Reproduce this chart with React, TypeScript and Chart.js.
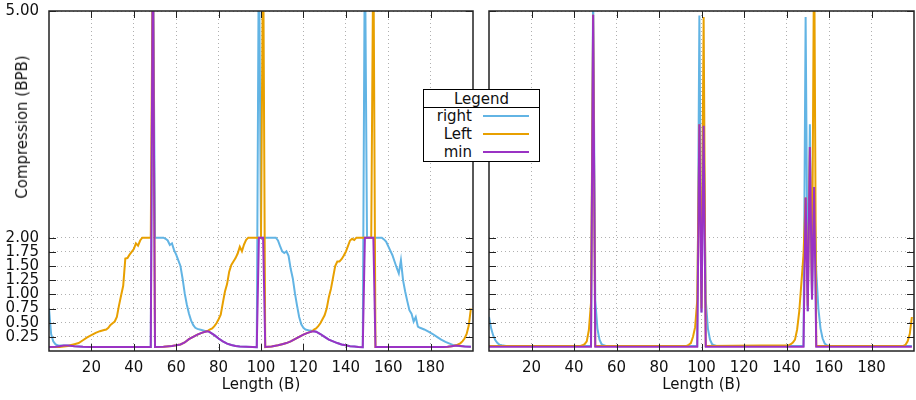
import React, { useEffect, useRef } from 'react';
import { Chart, registerables, LinearScale } from 'chart.js';

// ---------------- data ----------------
const X_TICKS = [20, 40, 60, 80, 100, 120, 140, 160, 180];
const Y_TICKS = [0.25, 0.5, 0.75, 1.0, 1.25, 1.5, 1.75, 2.0, 5.0];
const X_MIN = 0;
const X_MAX = 200;
const Y_MIN = 0;
const Y_MAX = 5;
const SERIES_NAMES = ['right', 'Left', 'min'];

// left panel
const L_RIGHT: [number, number][] = [[0,0.75],[1,0.3],[2,0.17],[3,0.12],[4,0.1],[5,0.095],[9,0.095],[12,0.085],[16,0.075],[20,0.07],[48,0.07],[49,6],[50,2],[54,2],[55,1.98],[56,1.95],[57,1.87],[58,1.9],[59,1.78],[60,1.7],[61,1.6],[62,1.5],[63,1.28],[64,1.02],[65,0.82],[66,0.66],[67,0.54],[68,0.46],[69,0.41],[70,0.39],[72,0.37],[74,0.35],[75,0.35],[76,0.33],[78,0.28],[80,0.22],[82,0.17],[84,0.13],[86,0.105],[88,0.09],[90,0.08],[93,0.075],[96,0.07],[98,0.068],[99,6],[100,2],[107,2],[108,1.95],[109,1.85],[110,1.76],[111,1.73],[112,1.76],[113,1.68],[114,1.45],[115,1.28],[116,1.02],[117,0.8],[118,0.6],[119,0.47],[120,0.41],[121,0.38],[123,0.36],[125,0.35],[126,0.34],[128,0.3],[130,0.25],[132,0.2],[134,0.17],[136,0.14],[138,0.115],[140,0.1],[142,0.085],[144,0.078],[146,0.07],[148,0.068],[149,6],[150,2],[157,2],[158,1.97],[159,1.93],[160,1.85],[161,1.77],[162,1.69],[163,1.58],[164,1.47],[165,1.37],[166,1.6],[167,1.25],[168,1.05],[169,0.88],[170,0.72],[171,0.66],[172,0.52],[173,0.6],[174,0.43],[175,0.41],[177,0.38],[179,0.34],[181,0.3],[183,0.25],[185,0.2],[187,0.16],[189,0.13],[191,0.1],[193,0.09],[195,0.085],[199,0.075]];
const L_LEFT: [number, number][] = [[0,0.07],[5,0.07],[7,0.08],[8,0.085],[9,0.09],[10,0.1],[12,0.12],[14,0.14],[16,0.19],[18,0.24],[20,0.28],[22,0.32],[24,0.35],[26,0.37],[27,0.38],[28,0.41],[29,0.46],[30,0.49],[31,0.52],[32,0.6],[33,0.8],[34,0.98],[35,1.15],[36,1.63],[37,1.64],[38,1.7],[39,1.75],[40,1.8],[41,1.9],[42,1.86],[43,1.95],[44,2],[48,2],[49,6],[50,0.07],[54,0.075],[58,0.09],[60,0.1],[62,0.115],[64,0.15],[66,0.21],[68,0.25],[70,0.29],[72,0.32],[74,0.345],[75,0.36],[76,0.38],[77,0.4],[78,0.44],[79,0.49],[80,0.56],[81,0.64],[82,0.85],[83,1.05],[84,1.18],[85,1.4],[86,1.52],[87,1.58],[88,1.64],[89,1.72],[90,1.84],[91,1.76],[92,1.88],[93,1.96],[94,2],[100,2],[101,6],[102,0.07],[105,0.08],[108,0.1],[110,0.12],[112,0.14],[114,0.17],[116,0.21],[118,0.25],[120,0.29],[122,0.32],[124,0.345],[125,0.38],[126,0.4],[127,0.44],[128,0.49],[129,0.56],[130,0.63],[131,0.75],[132,0.95],[133,1.1],[134,1.3],[135,1.5],[136,1.58],[137,1.58],[138,1.62],[139,1.68],[140,1.75],[141,1.85],[142,1.95],[143,1.98],[144,1.96],[145,2],[152,2],[153,6],[154,0.07],[188,0.075],[190,0.085],[192,0.1],[194,0.135],[195,0.17],[196,0.22],[197,0.3],[198,0.45],[199,0.75]];
const L_MIN: [number, number][] = [[0,0.07],[3,0.075],[5,0.085],[7,0.095],[9,0.095],[12,0.085],[16,0.075],[20,0.07],[48,0.07],[49,6],[50,0.07],[54,0.075],[58,0.09],[60,0.1],[62,0.115],[64,0.15],[66,0.21],[68,0.25],[70,0.29],[72,0.32],[74,0.345],[75,0.35],[76,0.33],[78,0.28],[80,0.22],[82,0.17],[84,0.13],[86,0.105],[88,0.09],[90,0.08],[93,0.075],[96,0.07],[98,0.068],[99,2],[100,2],[101,2],[102,0.07],[105,0.08],[108,0.1],[110,0.12],[112,0.14],[114,0.17],[116,0.21],[118,0.25],[120,0.29],[122,0.32],[124,0.345],[125,0.35],[126,0.34],[128,0.3],[130,0.25],[132,0.2],[134,0.17],[136,0.14],[138,0.115],[140,0.1],[142,0.085],[144,0.078],[146,0.07],[148,0.068],[149,2],[153,2],[154,0.07],[186,0.07],[188,0.075],[190,0.085],[192,0.095],[194,0.09],[196,0.08],[199,0.075]];

// right panel
const R_RIGHT: [number, number][] = [[0,0.6],[1,0.4],[2,0.27],[3,0.19],[4,0.14],[5,0.11],[6,0.1],[8,0.09],[48,0.09],[49,5.3],[50,0.9],[51,0.4],[52,0.2],[53,0.12],[54,0.1],[55,0.09],[98,0.09],[99,4.94],[100,0.68],[101,3.48],[102,0.9],[103,0.4],[104,0.2],[105,0.12],[106,0.1],[107,0.09],[148,0.09],[149,4.92],[150,0.7],[151,3.5],[152,0.91],[153,2.67],[154,1.4],[155,0.75],[156,0.4],[157,0.22],[158,0.13],[159,0.1],[160,0.09],[199,0.09]];
const R_LEFT: [number, number][] = [[0,0.09],[43,0.09],[44,0.1],[45,0.12],[46,0.17],[47,0.37],[48,0.85],[49,4.95],[50,0.09],[93,0.09],[94,0.11],[95,0.14],[96,0.25],[97,0.42],[98,0.9],[99,3.5],[100,0.75],[101,4.92],[102,0.09],[141,0.1],[142,0.12],[143,0.15],[144,0.2],[145,0.38],[146,0.7],[147,1.2],[148,1.7],[149,2.53],[150,0.8],[151,3.2],[152,1.0],[153,6],[154,0.09],[195,0.09],[196,0.11],[197,0.17],[198,0.3],[199,0.6]];
const R_MIN: [number, number][] = [[0,0.075],[48,0.075],[49,4.95],[50,0.075],[98,0.075],[99,3.5],[100,0.68],[101,3.48],[102,0.075],[148,0.075],[149,2.53],[150,0.7],[151,3.2],[152,0.91],[153,2.67],[154,0.075],[199,0.075]];

// ---------------- styles ----------------
const COLORS = ['#62b4e4', '#e8a000', '#9a32c4'];
const FONT_FAMILY = "'DejaVu Sans', sans-serif";
const FONT_SIZE = 15;
const TEXT_COLOR = '#111';
const GRID_COLOR = '#b0b0b0';

// y axis: linear up to 2, stretched above (gnuplot nonlinear axis)
const BREAK = 2;
const STRETCH = 4 / 3;

class BrokenScale extends LinearScale {
  static id = 'broken';
  tf(v: number) { return v <= BREAK ? v : BREAK + (v - BREAK) * STRETCH; }
  inv(t: number) { return t <= BREAK ? t : BREAK + (t - BREAK) / STRETCH; }
  getPixelForValue(value: any) {
    if (value === null || value === undefined || isNaN(value)) return NaN;
    const t0 = this.tf((this as any).min);
    const t1 = this.tf((this as any).max);
    return (this as any).getPixelForDecimal((this.tf(value) - t0) / (t1 - t0));
  }
  getValueForPixel(pixel: number) {
    const t0 = this.tf((this as any).min);
    const t1 = this.tf((this as any).max);
    return this.inv(t0 + (this as any).getDecimalForPixel(pixel) * (t1 - t0));
  }
}

Chart.register(...registerables, BrokenScale as any);
Chart.defaults.font.family = FONT_FAMILY;
Chart.defaults.font.size = FONT_SIZE;
Chart.defaults.color = TEXT_COLOR;

const framePlugin = {
  id: 'gnuFrame',
  afterDraw(chart: any) {
    const { ctx, chartArea: a } = chart;
    const xs = chart.scales.x;
    const ys = chart.scales.y;
    ctx.save();
    ctx.strokeStyle = '#222';
    ctx.lineWidth = 1;
    ctx.beginPath();
    for (const t of xs.ticks) {
      const px = Math.round(xs.getPixelForValue(t.value)) + 0.5;
      ctx.moveTo(px, a.bottom);
      ctx.lineTo(px, a.bottom - 7);
      ctx.moveTo(px, a.top);
      ctx.lineTo(px, a.top + 7);
    }
    for (const t of ys.ticks) {
      const py = Math.round(ys.getPixelForValue(t.value)) + 0.5;
      ctx.moveTo(a.left, py);
      ctx.lineTo(a.left + 7, py);
      ctx.moveTo(a.right, py);
      ctx.lineTo(a.right - 7, py);
    }
    ctx.stroke();
    ctx.lineWidth = 1.5;
    ctx.strokeRect(a.left, a.top, a.right - a.left, a.bottom - a.top);
    ctx.restore();
  },
};

function toPoints(arr: [number, number][]) {
  return arr.map(([x, y]) => ({ x, y }));
}

function makeConfig(series: [number, number][][], showY: boolean, padding: any): any {
  const font = { family: FONT_FAMILY, size: FONT_SIZE };
  return {
    type: 'line',
    data: {
      datasets: series.map((s, i) => ({
        label: SERIES_NAMES[i],
        data: toPoints(s),
        borderColor: COLORS[i],
        backgroundColor: COLORS[i],
        borderWidth: 2,
        pointRadius: 0,
        tension: 0,
        fill: false,
        order: 2 - i,
      })),
    },
    options: {
      responsive: false,
      animation: false,
      events: [],
      layout: { padding },
      plugins: { legend: { display: false }, tooltip: { enabled: false } },
      scales: {
        x: {
          type: 'linear',
          min: X_MIN,
          max: X_MAX,
          afterBuildTicks: (s: any) => { s.ticks = X_TICKS.map((v) => ({ value: v })); },
          afterFit: (s: any) => { s.height = 49; s.paddingLeft = 0; s.paddingRight = 0; },
          ticks: { callback: (v: any) => String(v), font, color: TEXT_COLOR, padding: 8, maxRotation: 0, autoSkip: false },
          grid: { color: GRID_COLOR, lineWidth: 1, drawTicks: false },
          border: { display: false, dash: [1, 3] },
          title: { display: true, text: 'Length (B)', font, color: TEXT_COLOR, padding: { top: 0, bottom: 6 } },
        },
        y: {
          type: 'broken',
          min: Y_MIN,
          max: Y_MAX,
          afterBuildTicks: (s: any) => { s.ticks = Y_TICKS.map((v) => ({ value: v })); },
          afterFit: (s: any) => { s.width = showY ? 49 : 0; s.paddingTop = 0; s.paddingBottom = 0; },
          ticks: { display: showY, callback: (v: any) => Number(v).toFixed(2), font, color: TEXT_COLOR, padding: 10, autoSkip: false },
          grid: { color: GRID_COLOR, lineWidth: 1, drawTicks: false },
          border: { display: false, dash: [1, 3] },
        },
      },
    },
    plugins: [framePlugin],
  };
}

const textStyle: React.CSSProperties = {
  position: 'absolute',
  fontFamily: FONT_FAMILY,
  fontSize: FONT_SIZE,
  color: TEXT_COLOR,
  whiteSpace: 'nowrap',
  lineHeight: '18px',
};

export default function App() {
  const leftRef = useRef<HTMLCanvasElement>(null);
  const rightRef = useRef<HTMLCanvasElement>(null);

  useEffect(() => {
    const c1 = new Chart(leftRef.current as HTMLCanvasElement, makeConfig([L_RIGHT, L_LEFT, L_MIN], true, { left: 0, right: 7, top: 11, bottom: 0 }));
    const c2 = new Chart(rightRef.current as HTMLCanvasElement, makeConfig([R_RIGHT, R_LEFT, R_MIN], false, { left: 9, right: 2, top: 11, bottom: 0 }));
    return () => { c1.destroy(); c2.destroy(); };
  }, []);

  const rowsY = [116, 134, 152];

  return (
    <div style={{ position: 'absolute', left: 0, top: 0, width: 916, height: 400, background: '#fff', overflow: 'hidden' }}>
      <canvas ref={leftRef} width={480} height={400} style={{ position: 'absolute', left: 0, top: 0, width: 480, height: 400 }} />
      <canvas ref={rightRef} width={436} height={400} style={{ position: 'absolute', left: 480, top: 0, width: 436, height: 400 }} />
      <div style={{ ...textStyle, left: 22, top: 127, transform: 'translate(-50%, -50%) rotate(-90deg)' }}>Compression (BPB)</div>
      <div style={{ position: 'absolute', left: 423, top: 89, width: 117, height: 73, boxSizing: 'border-box', border: '1px solid #000', background: '#fff' }} />
      <div style={{ position: 'absolute', left: 423, top: 107, width: 117, height: 1, background: '#000' }} />
      <div style={{ ...textStyle, left: 423, width: 117, top: 90, textAlign: 'center' }}>Legend</div>
      {SERIES_NAMES.map((name, i) => (
        <React.Fragment key={name}>
          <div style={{ ...textStyle, left: 424, width: 48, top: rowsY[i] - 9, textAlign: 'right' }}>{name}</div>
          <div style={{ position: 'absolute', left: 483, width: 46, top: rowsY[i] - 1, height: 2, background: COLORS[i] }} />
        </React.Fragment>
      ))}
    </div>
  );
}
